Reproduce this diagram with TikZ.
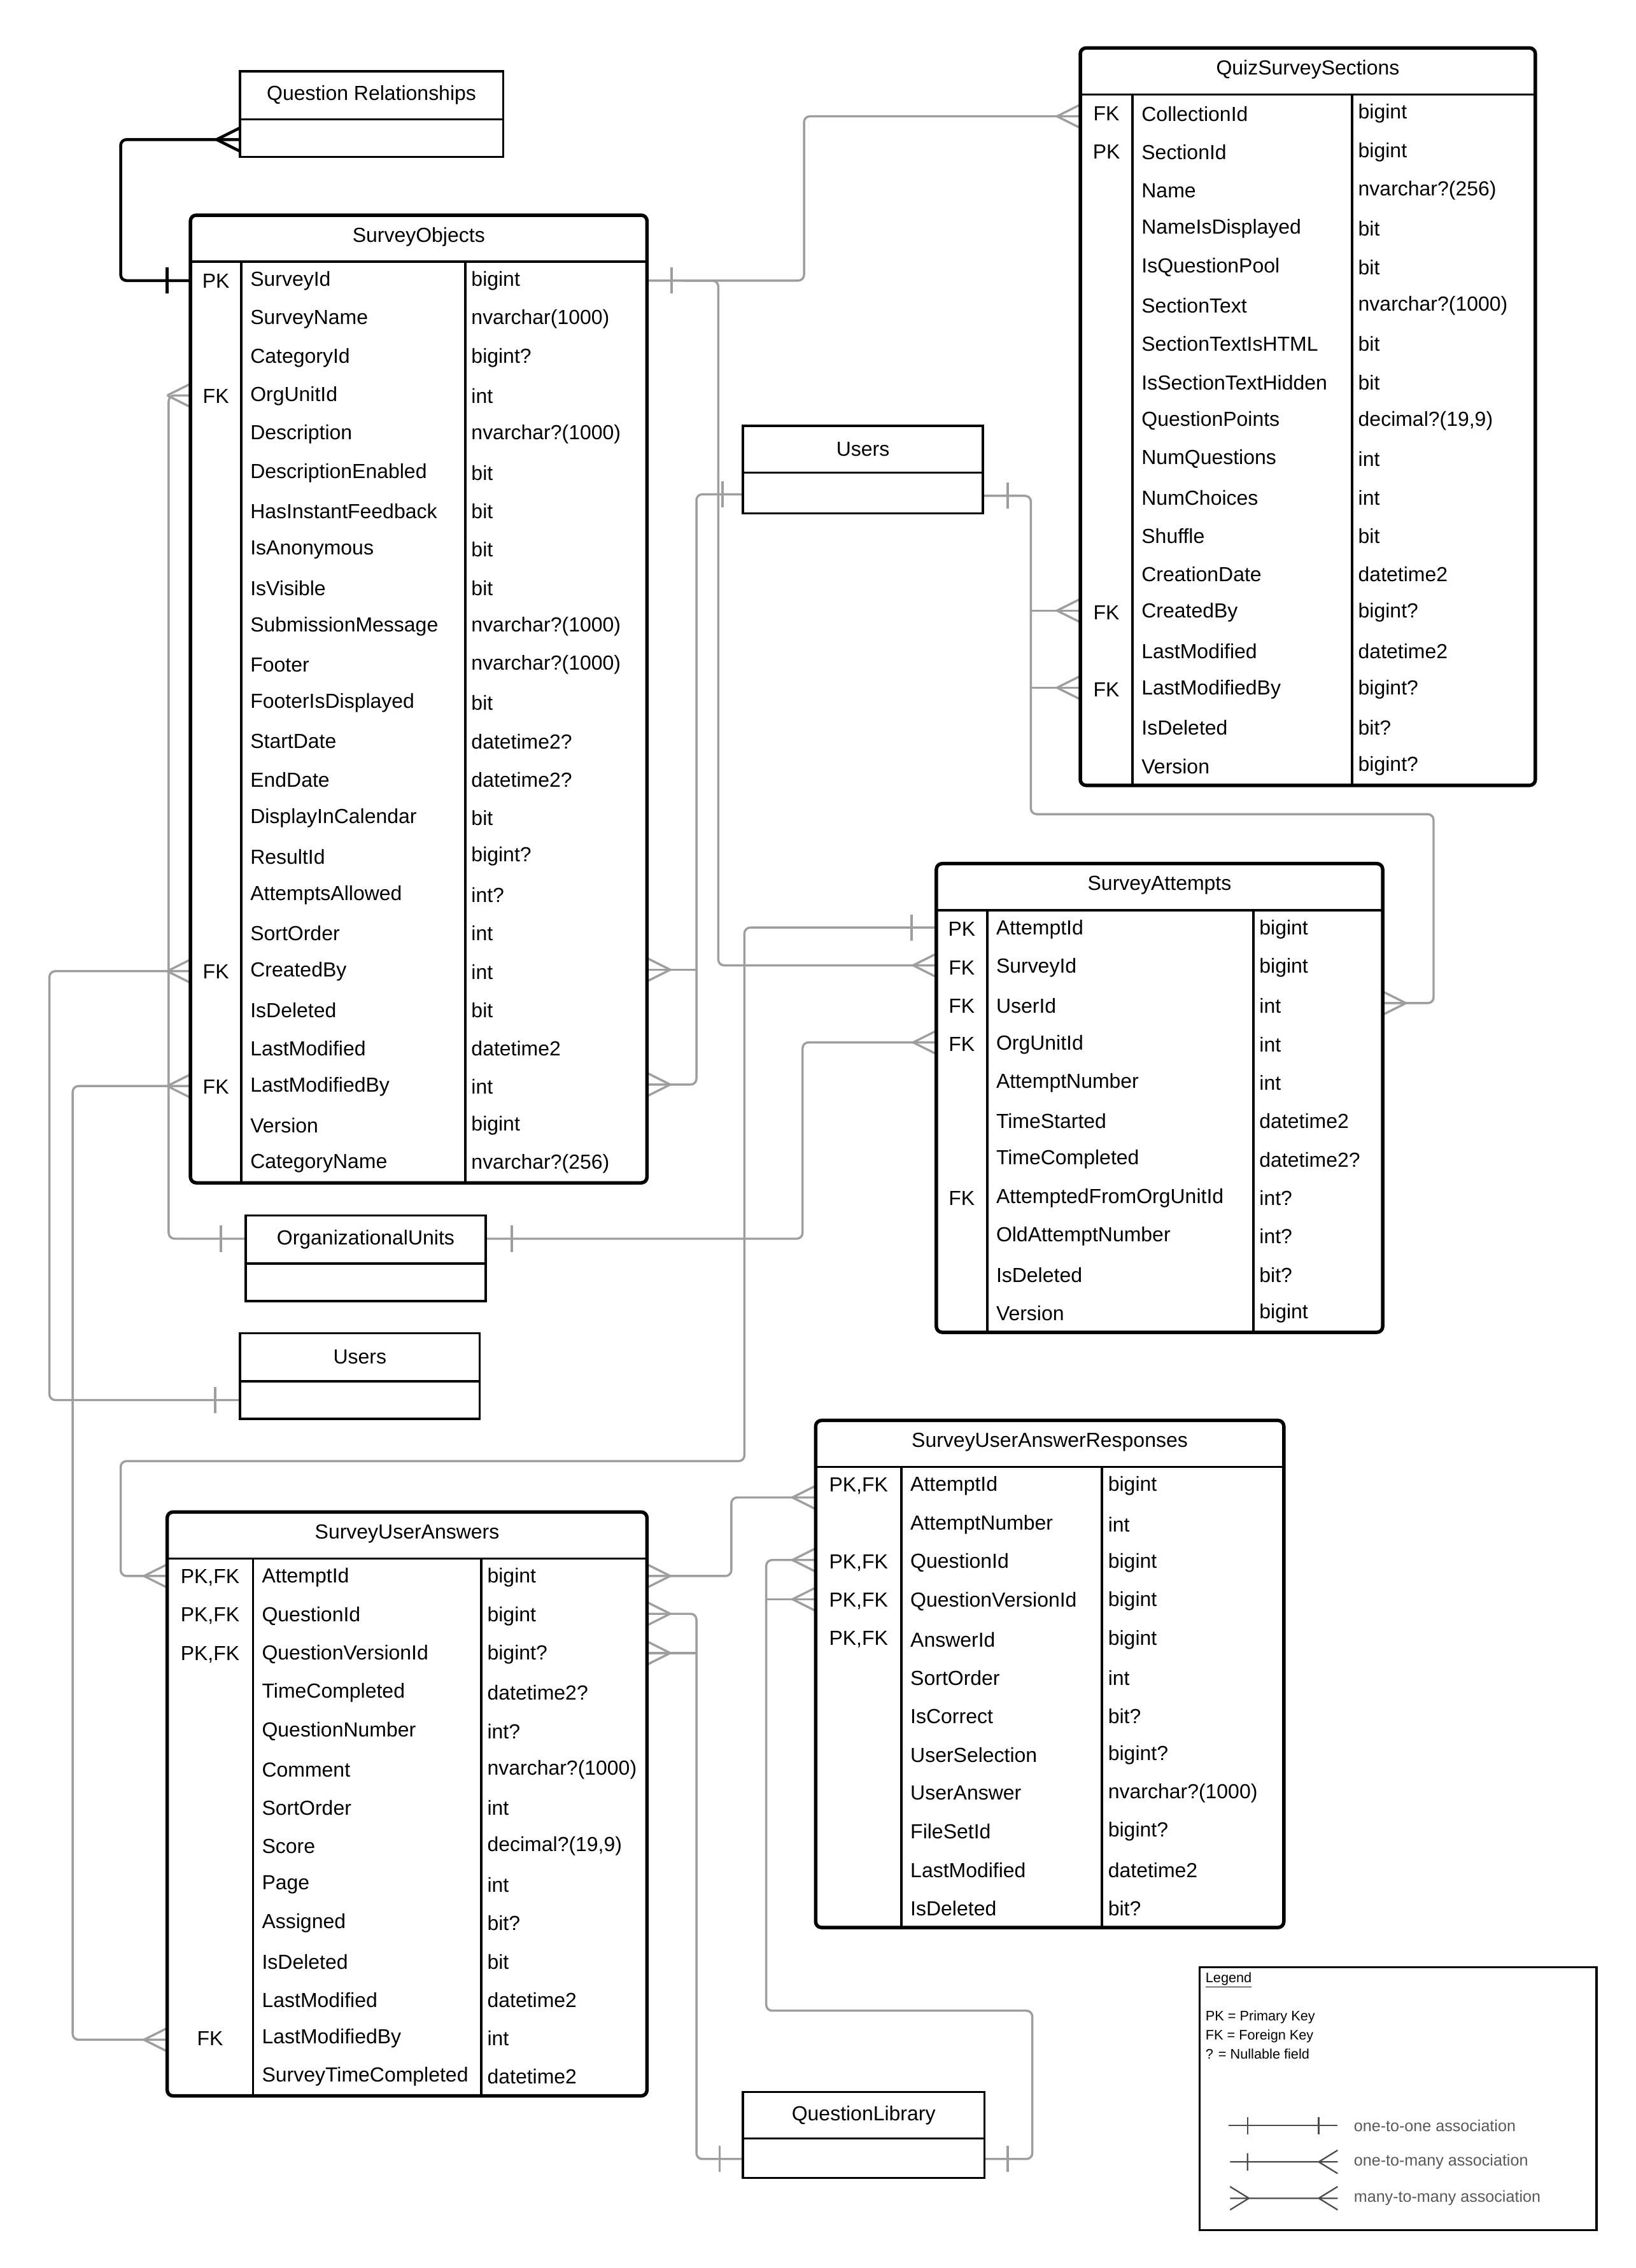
\documentclass[tikz,border=0pt]{standalone}
\usepackage{fontspec}
\setmainfont{Liberation Sans}
\usetikzlibrary{calc}
\tikzset{
    % Table frame
    tbl/.style={line width=2.4pt,rounded corners=4pt},
    % Inner rule
    rule/.style={line width=1.6pt},
    % Plain entity box
    plain/.style={line width=1.5pt},
    % Relationship line
    conn/.style={line width=1.5pt,black!38,rounded corners=4pt},
    % Cell text
    cell/.style={anchor=west,inner sep=0pt,font=\fontsize{14}{16}\selectfont},
    keycell/.style={inner sep=0pt,font=\fontsize{14}{16}\selectfont}
}
% table: x1, x2, column 1, column 2, top, rows, title, row list
\newcommand{\ertable}[8]{
    \draw[tbl] (#1,#5) rectangle (#2,#5+32+26.4*#6);
    \draw[rule] (#1,#5+32) -- (#2,#5+32);
    \draw[rule] (#3,#5+32) -- (#3,#5+32+26.4*#6);
    \draw[rule] (#4,#5+32) -- (#4,#5+32+26.4*#6);
    \node[keycell] at ({(#1+#2)/2},#5+15) {#7};
    \foreach \k/\n/\t [count=\i] in {#8} {
        \node[keycell] at ({(#1+#3)/2},#5+45.2+26.4*\i-26.4) {\k};
        \node[cell] at (#3+6,#5+45.2+26.4*\i-26.4) {\n};
        \node[cell] at (#4+4,#5+45.2+26.4*\i-26.4) {\t};
    }
}
% plain box: x1, x2, top, middle, bottom, title
\newcommand{\plainbox}[6]{
    \draw[plain] (#1,#3) rectangle (#2,#5);
    \draw[plain] (#1,#4) -- (#2,#4);
    \node[keycell] at ({(#1+#2)/2},{(#3+#4)/2}) {#6};
}
% crow feet: entity on the right / on the left
\newcommand{\crowL}[2]{\draw[conn,rounded corners=0pt] (#1-16,#2) -- (#1,#2-8) (#1-16,#2) -- (#1,#2+8);}
\newcommand{\crowR}[2]{\draw[conn,rounded corners=0pt] (#1+16,#2) -- (#1,#2-8) (#1+16,#2) -- (#1,#2+8);}
\newcommand{\onebar}[2]{\draw[conn] (#1,#2-9) -- (#1,#2+9);}

\begin{document}
\begin{tikzpicture}[x=1pt,y=-1pt]
    \useasboundingbox[fill=white] (0,0) rectangle (1125,1560);

    % Relationship lines
    \draw[line width=2pt,rounded corners=4pt] (165,96) -- (83,96) -- (83,193) -- (131,193);
    \draw[line width=2pt] (149,96) -- (165,88) (149,96) -- (165,104);
    \draw[line width=2pt] (115,184) -- (115,202);

    \draw[conn] (445,193) -- (553,193) -- (553,80) -- (743,80);
    \onebar{462}{193} \crowL{743}{80}
    \draw[conn] (470,193) -- (494,193) -- (494,664) -- (644,664);
    \crowL{644}{664}

    \draw[conn] (511,340) -- (479,340) -- (479,746) -- (445,746);
    \draw[conn] (479,667) -- (445,667);
    \onebar{497}{340} \crowR{445}{667} \crowR{445}{746}

    \draw[conn] (676,341) -- (709,341) -- (709,560) -- (986,560) -- (986,690) -- (951,690);
    \draw[conn] (709,420) -- (743,420);
    \draw[conn] (709,473) -- (743,473);
    \onebar{693}{341} \crowL{743}{420} \crowL{743}{473} \crowR{951}{690}

    \draw[conn] (169,852) -- (116,852) -- (116,272) -- (131,272);
    \onebar{152}{852} \crowL{131}{272}
    \draw[conn] (334,852) -- (552,852) -- (552,717) -- (644,717);
    \onebar{352}{852} \crowL{644}{717}

    \draw[conn] (165,963) -- (34,963) -- (34,668) -- (131,668);
    \draw[conn] (131,747) -- (50,747) -- (50,1403) -- (115,1403);
    \onebar{148}{963} \crowL{131}{668} \crowL{131}{747} \crowL{115}{1403}

    \draw[conn] (644,638) -- (512,638) -- (512,1005) -- (83,1005) -- (83,1084) -- (115,1084);
    \onebar{627}{638} \crowL{115}{1084}

    \draw[conn] (445,1084) -- (503,1084) -- (503,1030) -- (561,1030);
    \crowR{445}{1084} \crowL{561}{1030}

    \draw[conn] (511,1485) -- (479,1485) -- (479,1110) -- (445,1110);
    \draw[conn] (479,1137) -- (445,1137);
    \onebar{495}{1485} \crowR{445}{1110} \crowR{445}{1137}
    \draw[conn] (677,1485) -- (710,1485) -- (710,1383) -- (527,1383) -- (527,1073) -- (561,1073);
    \draw[conn] (527,1100) -- (561,1100);
    \onebar{693}{1485} \crowL{561}{1073} \crowL{561}{1100}

    % Plain boxes
    \plainbox{165}{346}{49}{82}{108}{Question Relationships}
    \plainbox{511}{676}{293}{325}{353}{Users}
    \plainbox{169}{334}{836}{869}{895}{OrganizationalUnits}
    \plainbox{165}{330}{917}{950}{976}{Users}
    \plainbox{511}{677}{1439}{1471}{1498}{QuestionLibrary}

    % Tables
    \ertable{131}{445}{166}{320}{148}{24}{SurveyObjects}{
        PK/SurveyId/bigint, {}/SurveyName/nvarchar(1000), {}/CategoryId/bigint?,
        FK/OrgUnitId/int, {}/Description/nvarchar?(1000), {}/DescriptionEnabled/bit,
        {}/HasInstantFeedback/bit, {}/IsAnonymous/bit, {}/IsVisible/bit,
        {}/SubmissionMessage/nvarchar?(1000), {}/Footer/nvarchar?(1000),
        {}/FooterIsDisplayed/bit, {}/StartDate/datetime2?, {}/EndDate/datetime2?,
        {}/DisplayInCalendar/bit, {}/ResultId/bigint?, {}/AttemptsAllowed/int?,
        {}/SortOrder/int, FK/CreatedBy/int, {}/IsDeleted/bit, {}/LastModified/datetime2,
        FK/LastModifiedBy/int, {}/Version/bigint, {}/CategoryName/nvarchar?(256)}
    \ertable{743}{1056}{779}{930}{33}{18}{QuizSurveySections}{
        FK/CollectionId/bigint, PK/SectionId/bigint, {}/Name/nvarchar?(256),
        {}/NameIsDisplayed/bit, {}/IsQuestionPool/bit, {}/SectionText/nvarchar?(1000),
        {}/SectionTextIsHTML/bit, {}/IsSectionTextHidden/bit,
        {}/QuestionPoints/{decimal?(19,9)}, {}/NumQuestions/int, {}/NumChoices/int,
        {}/Shuffle/bit, {}/CreationDate/datetime2, FK/CreatedBy/bigint?,
        {}/LastModified/datetime2, FK/LastModifiedBy/bigint?, {}/IsDeleted/bit?,
        {}/Version/bigint?}
    \ertable{644}{951}{679}{862}{594}{11}{SurveyAttempts}{
        PK/AttemptId/bigint, FK/SurveyId/bigint, FK/UserId/int, FK/OrgUnitId/int,
        {}/AttemptNumber/int, {}/TimeStarted/datetime2, {}/TimeCompleted/datetime2?,
        FK/AttemptedFromOrgUnitId/int?, {}/OldAttemptNumber/int?, {}/IsDeleted/bit?,
        {}/Version/bigint}
    \ertable{561}{883}{620}{758}{977}{12}{SurveyUserAnswerResponses}{
        {PK,FK}/AttemptId/bigint, {}/AttemptNumber/int, {PK,FK}/QuestionId/bigint,
        {PK,FK}/QuestionVersionId/bigint, {PK,FK}/AnswerId/bigint, {}/SortOrder/int,
        {}/IsCorrect/bit?, {}/UserSelection/bigint?, {}/UserAnswer/nvarchar?(1000),
        {}/FileSetId/bigint?, {}/LastModified/datetime2, {}/IsDeleted/bit?}
    \ertable{115}{445}{174}{331}{1040}{14}{SurveyUserAnswers}{
        {PK,FK}/AttemptId/bigint, {PK,FK}/QuestionId/bigint,
        {PK,FK}/QuestionVersionId/bigint?, {}/TimeCompleted/datetime2?,
        {}/QuestionNumber/int?, {}/Comment/nvarchar?(1000), {}/SortOrder/int,
        {}/Score/{decimal?(19,9)}, {}/Page/int, {}/Assigned/bit?, {}/IsDeleted/bit,
        {}/LastModified/datetime2, FK/LastModifiedBy/int,
        {}/SurveyTimeCompleted/datetime2}

    % Legend
    \draw[line width=1.5pt] (825,1353) rectangle (1098,1534);
    \node[anchor=west,inner sep=0pt,font=\fontsize{9.5}{11}\selectfont] at (829,1362) {\underline{Legend}};
    \node[anchor=north west,inner sep=0pt,align=left,font=\fontsize{9.5}{13}\selectfont] at (829,1383)
        {PK = Primary Key\\FK = Foreign Key\\? = Nullable field};
    \begin{scope}[every path/.style={line width=1pt,black!70}]
        \draw (845,1462) -- (920,1462) (858,1456) -- (858,1468) (907,1456) -- (907,1468);
        \draw (846,1487) -- (920,1487) (858,1481) -- (858,1493) (920,1479) -- (907,1487) -- (920,1495);
        \draw (846,1512) -- (920,1512) (846,1504) -- (859,1512) -- (846,1520) (920,1504) -- (907,1512) -- (920,1520);
    \end{scope}
    \foreach \y/\txt in {1462/one-to-one association, 1487/one-to-many association, 1512/many-to-many association}
        \node[anchor=west,inner sep=0pt,black!65,font=\fontsize{11}{13}\selectfont] at (931,\y) {\txt};
\end{tikzpicture}
\end{document}
